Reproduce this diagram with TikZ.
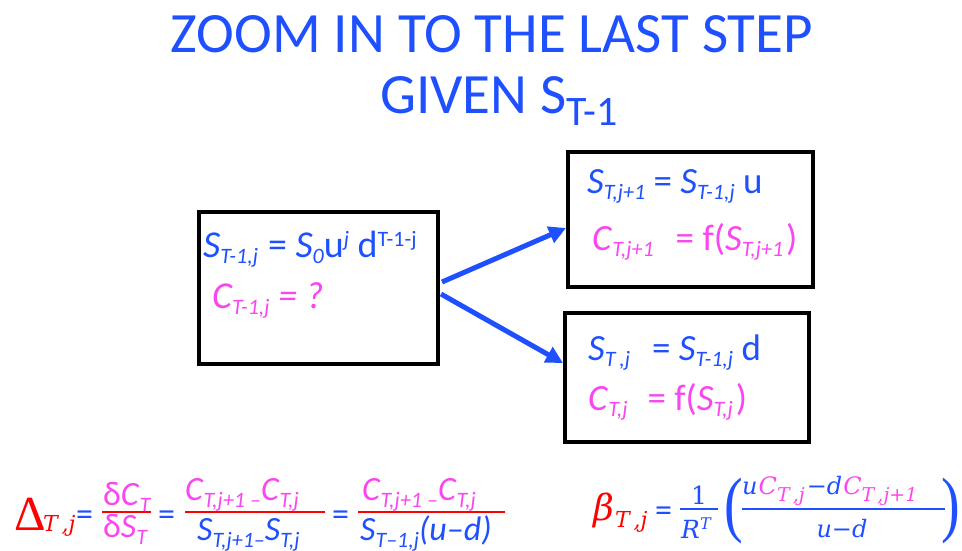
\documentclass[tikz,border=0pt]{standalone}
\usepackage{fontspec}
\setmainfont{Carlito}
\newfontfamily\mserif{DejaVu Serif}
\newfontfamily\tserif{Liberation Serif}
\usetikzlibrary{arrows.meta}
\definecolor{tblue}{RGB}{30,80,255}
\definecolor{tmag}{RGB}{250,70,240}
\newcommand\lo[1]{\raisebox{-6pt}{\fontsize{22}{24}\selectfont\itshape #1}}
\newcommand\hi[1]{\raisebox{11pt}{\fontsize{22}{24}\selectfont #1}}
\newcommand\flo[1]{\raisebox{-7pt}{\fontsize{22}{24}\selectfont\itshape #1}}
\newcommand\mlo[1]{\raisebox{-7pt}{\fontsize{19}{20}\selectfont\mserif\itshape #1}}
\begin{document}
\begin{tikzpicture}[x=1pt,y=-1pt,
  box/.style={draw=black, line width=4pt, inner sep=0pt},
  txt/.style={anchor=base west, inner sep=0pt, font=\fontsize{37}{40}\selectfont},
  ftxt/.style={anchor=base west, inner sep=0pt, font=\fontsize{34}{40}\selectfont},
  mtxt/.style={anchor=base west, inner sep=0pt, font=\fontsize{24}{28}\selectfont\mserif\itshape},
  ttl/.style={anchor=base, inner sep=0pt, text=tblue, font=\fontsize{57}{60}\selectfont},
  arr/.style={draw=tblue, line width=5pt, -{Triangle[length=17pt,width=17pt]}},
  fbar/.style={draw=red, line width=1.6pt},
  bbar/.style={draw=tblue, line width=1.4pt},
  par/.style={inner sep=0pt, text=tblue, font=\fontsize{56}{60}\selectfont\tserif},
]
\useasboundingbox (0,0) rectangle (962,550);
% title
\node[ttl] (t1) at (492,52) {ZOOM IN TO THE LAST STEP};
\node[ttl] (t2) at (499,113) {GIVEN S\raisebox{-12pt}{\fontsize{42}{44}\selectfont T-1}};
% boxes
\node[box, minimum width=239pt, minimum height=152pt] (b1) at (318.5,288) {};
\node[box, minimum width=245pt, minimum height=135pt] (b2) at (690.5,219.5) {};
\node[box, minimum width=244pt, minimum height=129pt] (b3) at (687,377.5) {};
% box texts
\node[txt, text=tblue, font=\fontsize{38}{40}\selectfont] (s1) at (203,257) {\textit{S}\lo{T-1,j}\hspace{10pt}= \textit{S}\lo{0}u\hi{\itshape j} d\hi{T-1-j}};
\node[txt, text=tmag, font=\fontsize{38}{40}\selectfont] (c1) at (212,308) {\itshape C\lo{T-1,j} = ?};
\node[txt, text=tblue] (s2) at (587,193) {\textit{S}\lo{T,j+1} = \textit{S}\lo{T-1,j} u};
\node[txt, text=tmag] (c2) at (592,250) {\textit{C}\lo{T,j+1}\hspace{22pt}= f(\textit{S}\lo{T,j+1}\hspace{3pt})};
\node[txt, text=tblue] (s3) at (588,360) {\textit{S}\lo{T\,,j}\hspace{22pt}= \textit{S}\lo{T-1,j} d};
\node[txt, text=tmag] (c3) at (588,410) {\textit{C}\lo{T,j}\hspace{20pt}= f(\textit{S}\lo{T,j}\hspace{3pt})};
% arrows
\draw[arr] ([xshift=2pt,yshift=6pt]b1.east) -- ([yshift=-8.5pt]b2.west);
\draw[arr] ([xshift=1pt,yshift=-6pt]b1.east) -- ([yshift=14.5pt]b3.west);
% Delta formula
\node[anchor=base west, inner sep=0pt, text=red, font=\fontsize{49}{55}\selectfont\tserif] (dl) at (14,530) {Δ};
\node[anchor=base west, inner sep=0pt, text=red, font=\fontsize{22}{28}\selectfont\mserif\itshape] (dls) at (43,531) {T\,,j};
\node[ftxt, text=tblue] (e1) at (76,525) {=};
\node[ftxt, text=tmag] (n1) at (103,505) {δ\textit{C}\flo{T}};
\node[ftxt, text=tmag] (d1) at (103,537) {δ\textit{S}\flo{T}};
\draw[fbar] (102,512) -- (151,512);
\node[ftxt, text=tblue] (e2) at (158,525) {=};
\node[ftxt, text=tmag] (n2) at (185,500) {\textit{C}\flo{T,j+1 –}\textit{C}\flo{T,j}};
\node[ftxt, text=tblue] (d2) at (197,540) {\textit{S}\flo{T,j+1–}\textit{S}\flo{T,j}};
\draw[fbar] (185,512) -- (325,512);
\node[ftxt, text=tblue] (e3) at (332,525) {=};
\node[ftxt, text=tmag] (n3) at (362,500) {\textit{C}\flo{T,j+1 –}\textit{C}\flo{T,j}};
\node[ftxt, text=tblue] (d3) at (360,540) {\textit{S}\flo{T–1,j}\textit{(u–d)}};
\draw[fbar] (358,512) -- (505,512);
% beta formula
\node[anchor=base west, inner sep=0pt, text=red, font=\fontsize{36}{40}\selectfont\mserif\itshape] (bb) at (593,520) {β};
\node[anchor=base west, inner sep=0pt, text=red, font=\fontsize{22}{28}\selectfont\mserif\itshape] (bbs) at (615,527) {T\,,j};
\node[ftxt, text=tblue] (e4) at (655,521) {=};
\node[anchor=base, inner sep=0pt, text=tblue, font=\fontsize{25}{28}\selectfont\mserif] (one) at (699,504) {1};
\draw[bbar] (680,509) -- (718,509);
\node[anchor=base west, inner sep=0pt, text=tblue, font=\fontsize{25}{28}\selectfont\mserif\itshape] (rt) at (681,538) {R\raisebox{9pt}{\fontsize{16}{18}\selectfont T}};
\node[par] (lp) at (734,511) {\scalebox{1}[1.3]{(}};
\node[mtxt] (num) at (742,494) {\textcolor{tblue}{u}\hspace{1pt}\textcolor{tmag}{C\mlo{T\,,j}}\hspace{2pt}\textcolor{tblue}{−d}\hspace{1pt}\textcolor{tmag}{C\mlo{T\,,j+1}}};
\draw[bbar] (742,509) -- (945,509);
\node[mtxt, anchor=base, text=tblue] (den) at (842,537) {u−d};
\node[par] (rp) at (951,511) {\scalebox{1}[1.3]{)}};
\end{tikzpicture}
\end{document}
